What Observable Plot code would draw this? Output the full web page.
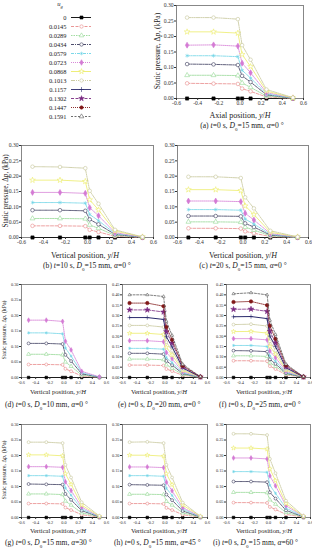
<!DOCTYPE html>
<html><head><meta charset="utf-8">
<script src="https://cdn.jsdelivr.net/npm/d3@7"></script>
<script src="https://cdn.jsdelivr.net/npm/@observablehq/plot@0.6"></script>
<style>
body{margin:0;background:#fff;}
#root{position:relative;width:312px;height:550px;overflow:hidden;font-family:"Liberation Serif","Times New Roman",serif;color:#222;}
.t{position:absolute;white-space:nowrap;line-height:1;}
.c{transform:translate(-50%,-50%);}
.l{transform:translateY(-50%);}
.rot{transform:translate(-50%,-50%) rotate(-90deg);}
svg{position:absolute;}
</style></head><body><div id="root"></div>
<script>
// ---- data ----
const ug = ["0","0.0145","0.0289","0.0434","0.0579","0.0723","0.0868","0.1013","0.1157","0.1302","0.1447","0.1591"];
const xPos = [-0.5,-0.25,-0.02,0.02,0.1,0.25,0.5];
const xTicks = [-0.6,-0.4,-0.2,0,0.2,0.4,0.6];
const yTicks30 = [0,0.05,0.10,0.15,0.20,0.25,0.30];
const yTicks45 = [0,0.05,0.10,0.15,0.20,0.25,0.30,0.35,0.40,0.45];
const zero = [0,0,0,0,0,0,0];

const panelA = [zero,
 [0.049,0.048,0.047,0.032,0.023,0.005,0.000],
 [0.075,0.075,0.074,0.050,0.036,0.008,0.001],
 [0.111,0.110,0.108,0.073,0.053,0.012,0.001],
 [0.138,0.138,0.135,0.091,0.066,0.015,0.001],
 [0.172,0.173,0.169,0.114,0.083,0.019,0.002],
 [0.215,0.215,0.211,0.142,0.103,0.024,0.002],
 [0.261,0.261,0.256,0.172,0.125,0.029,0.003]];
const panelB = [zero,
 [0.038,0.038,0.037,0.025,0.018,0.004,0.000],
 [0.062,0.062,0.061,0.041,0.030,0.007,0.001],
 [0.089,0.089,0.087,0.059,0.043,0.010,0.001],
 [0.114,0.114,0.112,0.075,0.055,0.013,0.001],
 [0.147,0.147,0.144,0.097,0.071,0.016,0.001],
 [0.187,0.187,0.183,0.123,0.090,0.021,0.002],
 [0.231,0.230,0.226,0.152,0.110,0.025,0.002]];
const panelC = [zero,
 [0.030,0.030,0.029,0.020,0.014,0.003,0.000],
 [0.051,0.051,0.050,0.034,0.024,0.006,0.000],
 [0.070,0.070,0.069,0.046,0.034,0.008,0.001],
 [0.091,0.091,0.089,0.060,0.044,0.010,0.001],
 [0.119,0.119,0.117,0.079,0.057,0.013,0.001],
 [0.156,0.156,0.153,0.103,0.075,0.017,0.002],
 [0.198,0.198,0.194,0.131,0.095,0.022,0.002]];
const panelD = [zero,
 [0.042,0.042,0.041,0.028,0.020,0.005,0.000],
 [0.075,0.075,0.073,0.050,0.036,0.008,0.001],
 [0.110,0.110,0.108,0.073,0.053,0.012,0.001],
 [0.144,0.144,0.141,0.095,0.069,0.016,0.001],
 [0.185,0.185,0.181,0.117,0.089,0.020,0.002]];
const panelE = [zero,
 [0.060,0.060,0.058,0.041,0.031,0.010,0.001],
 [0.089,0.089,0.086,0.061,0.045,0.014,0.001],
 [0.117,0.117,0.113,0.080,0.060,0.019,0.001],
 [0.141,0.141,0.137,0.096,0.072,0.023,0.001],
 [0.178,0.178,0.173,0.121,0.091,0.028,0.002],
 [0.214,0.214,0.208,0.146,0.109,0.034,0.002],
 [0.252,0.252,0.244,0.171,0.129,0.040,0.003],
 [0.290,0.290,0.281,0.197,0.148,0.046,0.003],
 [0.327,0.327,0.317,0.222,0.167,0.052,0.003],
 [0.360,0.360,0.345,0.244,0.183,0.057,0.004],
 [0.400,0.400,0.392,0.272,0.204,0.064,0.004]];
const panelF = [zero,
 [0.081,0.081,0.079,0.055,0.041,0.013,0.001],
 [0.105,0.105,0.102,0.071,0.054,0.017,0.001],
 [0.130,0.129,0.125,0.088,0.066,0.021,0.001],
 [0.155,0.155,0.150,0.105,0.079,0.025,0.002],
 [0.188,0.188,0.182,0.128,0.096,0.030,0.002],
 [0.222,0.223,0.215,0.151,0.113,0.036,0.002],
 [0.256,0.258,0.249,0.175,0.131,0.041,0.003],
 [0.294,0.295,0.285,0.200,0.150,0.047,0.003],
 [0.330,0.331,0.320,0.224,0.168,0.053,0.003],
 [0.365,0.368,0.350,0.250,0.187,0.059,0.004],
 [0.405,0.410,0.400,0.277,0.208,0.065,0.004]];
const panelG = [zero,
 [0.045,0.045,0.044,0.032,0.024,0.009,0.001],
 [0.076,0.076,0.074,0.053,0.040,0.015,0.002],
 [0.108,0.107,0.106,0.076,0.057,0.022,0.002],
 [0.135,0.135,0.133,0.095,0.072,0.027,0.003],
 [0.164,0.164,0.162,0.115,0.087,0.033,0.003],
 [0.202,0.202,0.199,0.141,0.107,0.040,0.004],
 [0.243,0.243,0.240,0.170,0.129,0.049,0.005]];
const panelH = [zero,
 [0.045,0.045,0.044,0.031,0.024,0.009,0.001],
 [0.075,0.075,0.074,0.052,0.040,0.015,0.001],
 [0.106,0.105,0.104,0.074,0.056,0.021,0.002],
 [0.135,0.135,0.133,0.094,0.071,0.027,0.002],
 [0.163,0.163,0.161,0.114,0.086,0.032,0.003],
 [0.201,0.201,0.198,0.141,0.106,0.040,0.004],
 [0.243,0.244,0.240,0.170,0.129,0.048,0.004]];
const panelI = [zero,
 [0.048,0.048,0.047,0.034,0.026,0.010,0.001],
 [0.081,0.081,0.080,0.057,0.043,0.016,0.002],
 [0.116,0.116,0.114,0.081,0.061,0.023,0.002],
 [0.148,0.148,0.146,0.104,0.078,0.030,0.003],
 [0.192,0.192,0.189,0.134,0.102,0.038,0.004],
 [0.224,0.224,0.221,0.157,0.119,0.045,0.004],
 [0.270,0.270,0.266,0.189,0.143,0.054,0.005]];

// ---- styles ----
const colors = ["#000000","#e88a8a","#96d896","#3a3a5c","#6ed4e6","#d47ad4","#ecec6a","#c6c69a","#2a2a6c","#7a2a82","#801818","#5e5e5e"];
const dashes = [null,"3,1.5","1.5,1","3,1,1,1","3,1,1,1","1,1",null,"4,1,1,1,1,1",null,"3,1.5","1,1","2,1.5"];
const symbols = ["square","circle","triangle","circle","asterisk","diamond","star","circle","plus","star","circle","triangle"];
const filled = [true,false,false,false,false,true,false,false,false,true,true,false];

const root = document.getElementById("root");
const FONT = '"Liberation Serif","Times New Roman",serif';

function addText(html, x, y, size, cls) {
  const d = document.createElement("div");
  d.className = "t " + cls;
  d.style.left = x + "px"; d.style.top = y + "px"; d.style.fontSize = size + "px";
  d.innerHTML = html;
  root.appendChild(d);
}

function makePanel(p) {
  const mL = 22, mR = 8, mT = 4, mB = 12;
  const marks = [Plot.frame({stroke: "#555", strokeWidth: 0.7})];
  p.data.forEach((vals, s) => {
    const rows = xPos.map((x, j) => ({x, y: vals[j]}));
    const lopt = {x: "x", y: "y", stroke: colors[s], strokeWidth: s === 8 ? 1 : 0.8};
    if (dashes[s]) lopt.strokeDasharray = dashes[s];
    marks.push(Plot.line(rows, lopt));
    const big = s === 10 || s === 9;
    marks.push(Plot.dot(rows, {x: "x", y: "y", symbol: symbols[s], r: big ? p.r * 1.2 : (s === 11 ? p.r * 0.8 : p.r), stroke: colors[s],
      fill: filled[s] ? colors[s] : "white", strokeWidth: 0.6}));
  });
  marks.push(Plot.axisX({ticks: xTicks, tickFormat: d => d.toFixed(1), tickSize: 2, tickPadding: 1, label: null}));
  marks.push(Plot.axisY({ticks: p.yticks, tickFormat: d => d.toFixed(2), tickSize: 2, tickPadding: 1, label: null}));
  const svg = Plot.plot({
    width: p.W + mL + mR, height: p.H + mT + mB,
    marginLeft: mL, marginRight: mR, marginTop: mT, marginBottom: mB,
    x: {domain: [-0.6, 0.6]}, y: {domain: [0, p.ymax]},
    style: {fontFamily: FONT, fontSize: p.fs + "px", background: "transparent", overflow: "visible", color: "#333"},
    marks
  });
  svg.style.left = (p.L - mL) + "px";
  svg.style.top = (p.T - mT) + "px";
  root.appendChild(svg);
}

const panels = [
  {data: panelA, ymax: 0.30, yticks: yTicks30, L: 176, T: 5, W: 127, H: 93, fs: 5.6, r: 1.8},
  {data: panelB, ymax: 0.30, yticks: yTicks30, L: 21, T: 145, W: 132, H: 92, fs: 5.6, r: 1.8},
  {data: panelC, ymax: 0.30, yticks: yTicks30, L: 177, T: 145, W: 131, H: 92, fs: 5.6, r: 1.8},
  {data: panelD, ymax: 0.30, yticks: yTicks30, L: 21, T: 284, W: 85, H: 93, fs: 4.3, r: 1.45},
  {data: panelE, ymax: 0.45, yticks: yTicks45, L: 122, T: 284, W: 85, H: 93, fs: 4.3, r: 1.45},
  {data: panelF, ymax: 0.45, yticks: yTicks45, L: 226, T: 284, W: 84, H: 93, fs: 4.3, r: 1.45},
  {data: panelG, ymax: 0.30, yticks: yTicks30, L: 21, T: 424, W: 85, H: 93, fs: 4.3, r: 1.45},
  {data: panelH, ymax: 0.30, yticks: yTicks30, L: 122, T: 424, W: 85, H: 93, fs: 4.3, r: 1.45},
  {data: panelI, ymax: 0.30, yticks: yTicks30, L: 226, T: 424, W: 84, H: 93, fs: 4.3, r: 1.45}
];
panels.forEach(makePanel);

// ---- legend ----
const legendMarks = [];
ug.forEach((u, s) => {
  const ropt = {x1: 71, x2: 91, stroke: colors[s], strokeWidth: 0.9};
  if (dashes[s]) ropt.strokeDasharray = dashes[s];
  legendMarks.push(Plot.ruleY([u], ropt));
  legendMarks.push(Plot.dot([u], {x: 81, y: d => d, symbol: symbols[s], r: 1.7, stroke: colors[s],
    fill: filled[s] ? colors[s] : "white", strokeWidth: 0.6}));
});
legendMarks.push(Plot.text(ug, {x: 66, y: d => d, text: d => d, textAnchor: "end", fill: "#222"}));
const leg = Plot.plot({
  width: 95, height: 125, marginTop: 14, marginBottom: 6, marginLeft: 0, marginRight: 0,
  x: {domain: [0, 95], range: [0, 95], axis: null},
  y: {type: "point", domain: ug, padding: 0, axis: null},
  style: {fontFamily: FONT, fontSize: "6.4px", background: "transparent", overflow: "visible"},
  marks: legendMarks
});
leg.style.left = "0px"; leg.style.top = "0px";
root.appendChild(leg);
addText("<i>u</i><sub style='font-size:4.5px'><i>g</i></sub>", 60, 5, 6.5, "c");

// ---- titles ----
const yTitle = "Static pressure, Δ<i>p</i>, (kPa)";
const vTitle = "Vertical position, <i>y</i>/<i>H</i>";
addText(yTitle, 158, 51, 7.5, "rot");
addText("Axial position, <i>y</i>/<i>H</i>", 240, 116, 8, "c");
addText("(a) <i>t</i>=0 s, <i>D</i><sub style='font-size:5px'>0</sub>=15 mm, <i>α</i>=0 °", 242, 127, 7.6, "c");

addText(yTitle, 7, 191, 7.2, "rot");
addText(vTitle, 85, 256, 8, "c");
addText("(b) <i>t</i>=10 s, <i>D</i><sub style='font-size:5px'>0</sub>=15 mm, <i>α</i>=0 °", 87, 267, 7.6, "c");
addText(vTitle, 243, 256, 8, "c");
addText("(c) <i>t</i>=20 s, <i>D</i><sub style='font-size:5px'>0</sub>=15 mm, <i>α</i>=0 °", 243, 267, 7.6, "c");

addText(yTitle, 5, 330, 5.8, "rot");
addText(vTitle, 58, 392, 6.6, "c");
addText(vTitle, 159, 392, 6.6, "c");
addText(vTitle, 264, 392, 6.6, "c");
addText("(d) <i>t</i>=0 s, <i>D</i><sub style='font-size:5px'>0</sub>=10 mm, <i>α</i>=0 °", 5, 406, 7.5, "l");
addText("(e) <i>t</i>=0 s, <i>D</i><sub style='font-size:5px'>0</sub>=20 mm, <i>α</i>=0 °", 118, 406, 7.5, "l");
addText("(f) <i>t</i>=0 s, <i>D</i><sub style='font-size:5px'>0</sub>=25 mm, <i>α</i>=0 °", 219, 406, 7.5, "l");

addText(yTitle, 5, 470, 5.8, "rot");
addText(vTitle, 58, 531, 6.6, "c");
addText(vTitle, 159, 531, 6.6, "c");
addText(vTitle, 264, 531, 6.6, "c");
addText("(g) <i>t</i>=0 s, <i>D</i><sub style='font-size:5px'>0</sub>=15 mm, <i>α</i>=30 °", 5, 544, 7.5, "l");
addText("(h) <i>t</i>=0 s, <i>D</i><sub style='font-size:5px'>0</sub>=15 mm, <i>α</i>=45 °", 114, 544, 7.5, "l");
addText("(i) <i>t</i>=0 s, <i>D</i><sub style='font-size:5px'>0</sub>=15 mm, <i>α</i>=60 °", 213, 544, 7.5, "l");
</script></body></html>
